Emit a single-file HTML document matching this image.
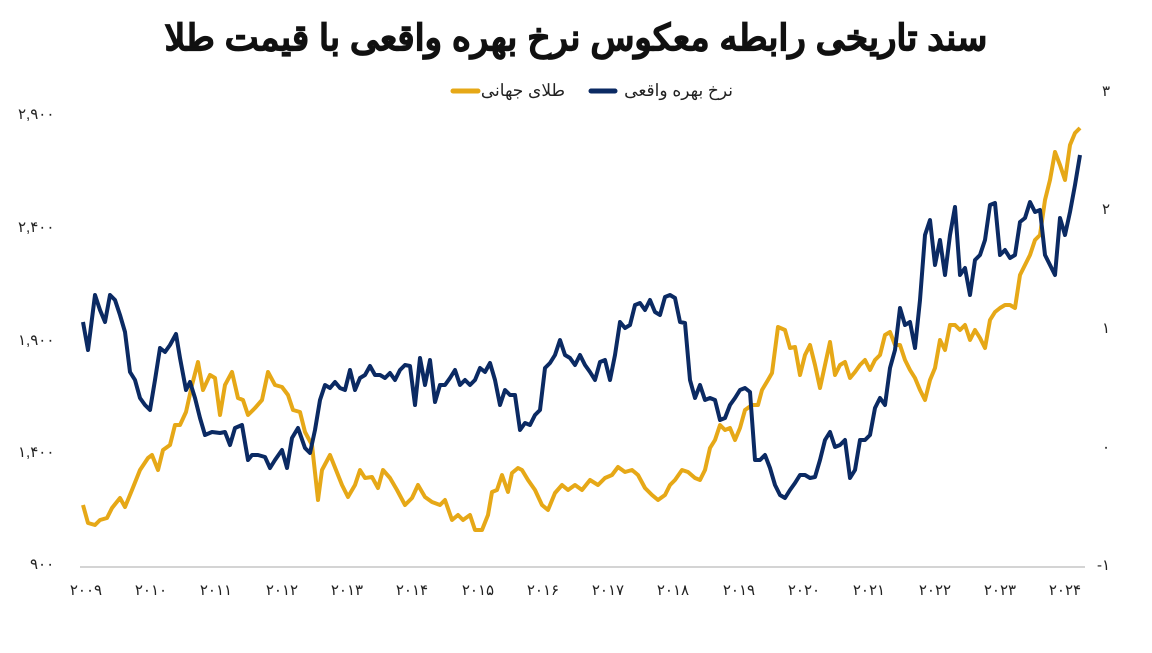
<!DOCTYPE html>
<html><head><meta charset="utf-8"><style>
html,body{margin:0;padding:0;background:#fff;}
svg text{font-family:"Liberation Sans","Noto Sans CJK SC",sans-serif;}
</style></head><body>
<svg width="1152" height="648" viewBox="0 0 1152 648" xmlns="http://www.w3.org/2000/svg">
<rect width="1152" height="648" fill="#fff"/>
<text x="576" y="50" text-anchor="middle" font-size="36" font-weight="bold" fill="#111" stroke="#111" stroke-width="1" direction="rtl">سند تاریخی رابطه معکوس نرخ بهره واقعی با قیمت طلا</text>
<line x1="453" y1="91" x2="478" y2="91" stroke="#E6A817" stroke-width="5" stroke-linecap="round"/>
<text x="565" y="96" text-anchor="start" font-size="17" fill="#222" direction="rtl">طلای جهانی</text>
<line x1="591" y1="91" x2="615" y2="91" stroke="#0B2A63" stroke-width="5" stroke-linecap="round"/>
<text x="733" y="96" text-anchor="start" font-size="17" fill="#222" direction="rtl">نرخ بهره واقعی</text>
<g font-size="15" fill="#222" text-anchor="start">
<text x="18" y="119">۲,۹۰۰</text><text x="18" y="232">۲,۴۰۰</text><text x="18" y="345">۱,۹۰۰</text><text x="18" y="457">۱,۴۰۰</text><text x="30" y="569">۹۰۰</text>
</g>
<g font-size="15" fill="#222" text-anchor="start">
<text x="1102" y="96">۳</text><text x="1102" y="214">۲</text><text x="1102" y="333">۱</text><text x="1102" y="452">۰</text><text x="1097" y="570">-۱</text>
</g>
<line x1="80" y1="567" x2="1085" y2="567" stroke="#aaa" stroke-width="1"/>
<g font-size="15" fill="#222" text-anchor="middle">
<text x="86" y="595">۲۰۰۹</text><text x="151" y="595">۲۰۱۰</text><text x="216" y="595">۲۰۱۱</text><text x="282" y="595">۲۰۱۲</text><text x="347" y="595">۲۰۱۳</text><text x="412" y="595">۲۰۱۴</text><text x="478" y="595">۲۰۱۵</text><text x="543" y="595">۲۰۱۶</text><text x="608" y="595">۲۰۱۷</text><text x="673" y="595">۲۰۱۸</text><text x="739" y="595">۲۰۱۹</text><text x="804" y="595">۲۰۲۰</text><text x="869" y="595">۲۰۲۱</text><text x="935" y="595">۲۰۲۲</text><text x="1000" y="595">۲۰۲۳</text><text x="1065" y="595">۲۰۲۴</text>
</g>
<polyline fill="none" stroke="#E6A817" stroke-width="4" stroke-linejoin="round" points="83,505 88,523 95,525 100,520 107,518 112,508 120,498 125,507 132,490 140,470 148,458 152,455 158,470 163,450 170,445 175,425 180,425 186,412 192,385 198,362 203,390 210,375 215,378 220,415 225,385 232,372 238,398 243,400 248,415 255,408 262,400 268,372 275,385 282,387 288,395 293,410 300,412 305,432 312,445 318,500 322,470 330,455 336,470 342,485 348,497 355,485 360,470 365,478 372,477 378,488 383,470 390,478 397,490 405,505 412,498 418,485 425,497 432,502 440,505 445,500 452,520 458,515 463,520 470,515 475,530 482,530 488,515 492,492 497,490 502,475 508,492 512,473 518,468 522,470 528,480 535,490 542,505 548,510 555,493 562,485 568,490 575,485 582,490 590,480 598,485 605,478 612,475 618,467 625,472 632,470 638,475 645,488 652,495 658,500 665,495 670,485 675,480 682,470 688,472 695,478 700,480 705,470 710,448 715,440 720,425 725,430 730,428 735,440 740,428 745,410 752,405 758,405 762,390 768,380 772,373 778,327 785,330 790,348 795,347 800,375 805,355 810,345 815,365 820,388 825,365 830,342 835,375 840,365 845,362 850,378 855,372 860,365 865,360 870,370 875,360 880,355 885,335 890,332 895,345 900,345 905,360 910,370 915,378 920,390 925,400 930,380 935,368 940,340 945,350 950,325 955,325 960,330 965,325 970,340 975,330 980,338 985,348 990,320 995,312 1000,308 1005,305 1010,305 1015,308 1020,275 1025,265 1030,255 1035,240 1040,235 1045,200 1050,180 1055,152 1060,165 1065,180 1070,145 1075,133 1080,128"/>
<polyline fill="none" stroke="#0B2A63" stroke-width="4" stroke-linejoin="round" points="83,322 88,350 95,295 100,310 105,322 110,295 115,300 120,315 125,332 130,372 135,380 140,398 145,405 150,410 155,380 160,348 165,352 170,345 176,334 180,358 186,390 190,382 195,398 200,418 205,435 212,432 220,433 225,432 230,445 235,428 242,425 248,460 252,455 258,455 265,457 270,468 275,460 282,450 287,468 292,438 298,428 305,448 310,453 315,430 320,400 325,385 330,388 335,382 340,388 345,390 350,370 355,390 360,378 365,375 370,366 375,375 380,375 385,378 390,373 395,380 400,370 405,365 410,366 415,405 420,358 425,385 430,360 435,402 440,385 445,385 450,378 455,370 460,385 465,380 470,385 475,380 480,368 485,372 490,363 495,380 500,405 505,390 510,395 515,395 520,430 525,423 530,425 535,415 540,410 545,368 550,363 555,355 560,340 565,355 570,358 575,365 580,355 585,365 590,372 595,380 600,362 605,360 610,380 615,355 620,322 625,328 630,325 635,305 640,303 645,310 650,300 655,312 660,315 665,297 670,295 675,298 680,322 685,323 690,380 695,398 700,385 705,400 710,398 715,400 720,420 725,418 730,405 735,398 740,390 745,388 750,392 755,460 760,460 765,455 770,468 775,485 780,495 785,498 790,490 795,483 800,475 805,475 810,478 815,477 820,460 825,440 830,432 835,447 840,445 845,440 850,478 855,470 860,440 865,440 870,435 875,408 880,398 885,405 890,368 895,350 900,308 905,325 910,322 915,348 920,300 925,235 930,220 935,265 940,240 945,275 950,235 955,207 960,275 965,268 970,295 975,260 980,255 985,240 990,205 995,203 1000,255 1005,250 1010,258 1015,255 1020,222 1025,218 1030,202 1035,212 1040,210 1045,255 1050,265 1055,275 1060,218 1065,235 1070,212 1075,185 1080,155"/>
</svg>
</body></html>
